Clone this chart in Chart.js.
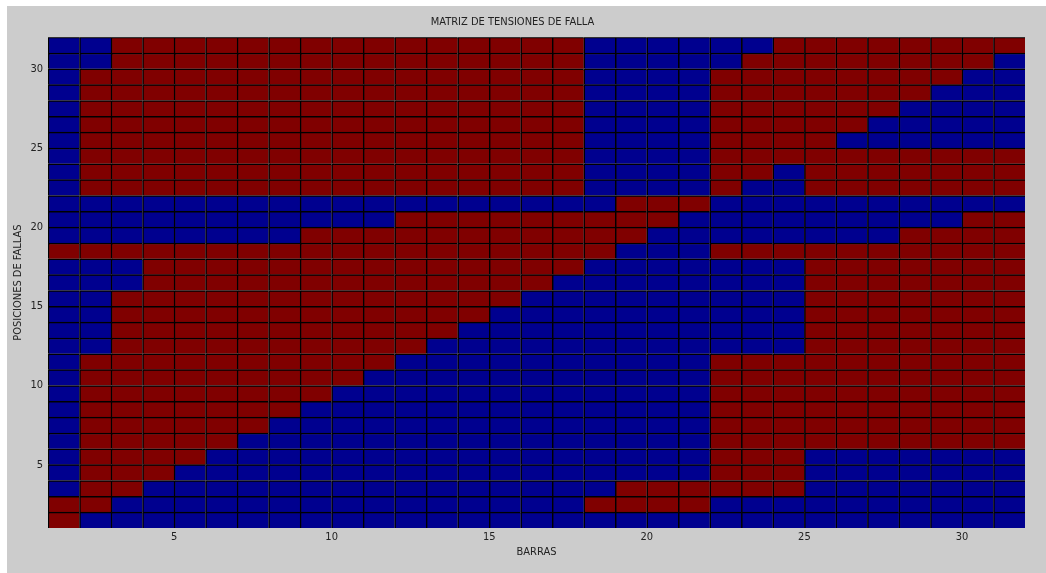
<!DOCTYPE html>
<html>
<head>
<meta charset="utf-8">
<script src="https://cdn.jsdelivr.net/npm/chart.js@4"></script>
<style>
  body { margin: 0; background: #fff; }
  #frame { position: absolute; left: 7px; top: 6px; width: 1039px; height: 567px; background: #cccccc; }
  #wrap { position: absolute; left: 0; top: 0; width: 1046px; height: 573px; }
</style>
</head>
<body>
<div id="frame"></div>
<div id="wrap"><canvas id="chart" width="1046" height="573"></canvas></div>
<script>
// columns = bars (BARRAS), rows = fault positions (POSICIONES DE FALLAS)
const bars = Array.from({ length: 31 }, (_, i) => i + 1);
const positions = Array.from({ length: 31 }, (_, i) => i + 1);
const xTicks = [5, 10, 15, 20, 25, 30];
const yTicks = [5, 10, 15, 20, 25, 30];

// one string per fault position, bottom (1) to top (31); R = red, B = blue
const matrixRows = [
  'RBBBBBBBBBBBBBBBBBBBBBBBBBBBBBB', // 1
  'RRBBBBBBBBBBBBBBBRRRRBBBBBBBBBB', // 2
  'BRRBBBBBBBBBBBBBBBRRRRRRBBBBBBB', // 3
  'BRRRBBBBBBBBBBBBBBBBBRRRBBBBBBB', // 4
  'BRRRRBBBBBBBBBBBBBBBBRRRBBBBBBB', // 5
  'BRRRRRBBBBBBBBBBBBBBBRRRRRRRRRR', // 6
  'BRRRRRRBBBBBBBBBBBBBBRRRRRRRRRR', // 7
  'BRRRRRRRBBBBBBBBBBBBBRRRRRRRRRR', // 8
  'BRRRRRRRRBBBBBBBBBBBBRRRRRRRRRR', // 9
  'BRRRRRRRRRBBBBBBBBBBBRRRRRRRRRR', // 10
  'BRRRRRRRRRRBBBBBBBBBBRRRRRRRRRR', // 11
  'BBRRRRRRRRRRBBBBBBBBBBBBRRRRRRR', // 12
  'BBRRRRRRRRRRRBBBBBBBBBBBRRRRRRR', // 13
  'BBRRRRRRRRRRRRBBBBBBBBBBRRRRRRR', // 14
  'BBRRRRRRRRRRRRRBBBBBBBBBRRRRRRR', // 15
  'BBBRRRRRRRRRRRRRBBBBBBBBRRRRRRR', // 16
  'BBBRRRRRRRRRRRRRRBBBBBBBRRRRRRR', // 17
  'RRRRRRRRRRRRRRRRRRBBBRRRRRRRRRR', // 18
  'BBBBBBBBRRRRRRRRRRRBBBBBBBBRRRR', // 19
  'BBBBBBBBBBBRRRRRRRRRBBBBBBBBBRR', // 20
  'BBBBBBBBBBBBBBBBBBRRRBBBBBBBBBB', // 21
  'BRRRRRRRRRRRRRRRRBBBBRBBRRRRRRR', // 22
  'BRRRRRRRRRRRRRRRRBBBBRRBRRRRRRR', // 23
  'BRRRRRRRRRRRRRRRRBBBBRRRRRRRRRR', // 24
  'BRRRRRRRRRRRRRRRRBBBBRRRRBBBBBB', // 25
  'BRRRRRRRRRRRRRRRRBBBBRRRRRBBBBB', // 26
  'BRRRRRRRRRRRRRRRRBBBBRRRRRRBBBB', // 27
  'BRRRRRRRRRRRRRRRRBBBBRRRRRRRBBB', // 28
  'BRRRRRRRRRRRRRRRRBBBBRRRRRRRRBB', // 29
  'BBRRRRRRRRRRRRRRRBBBBBRRRRRRRRB', // 30
  'BBRRRRRRRRRRRRRRRBBBBBBRRRRRRRR'  // 31
];

const RED = '#800000';
const BLUE = '#00008f';
const FONT = "'Liberation Sans Narrow', 'DejaVu Sans Condensed', 'Liberation Sans', sans-serif";
const TEXT = '#222';

const datasets = positions.map((pos, r) => ({
  label: 'Posicion ' + pos,
  data: bars.map(b => ({ x: b + 0.5, y: [pos, pos + 1] })),
  backgroundColor: bars.map((b, c) => matrixRows[r][c] === 'R' ? RED : BLUE),
  borderColor: '#000',
  borderWidth: { top: 1.5, left: 1.5, right: 0, bottom: 0 },
  borderSkipped: false,
  barPercentage: 1,
  categoryPercentage: 1,
  grouped: false
}));

new Chart(document.getElementById('chart'), {
  type: 'bar',
  data: { datasets },
  options: {
    responsive: false,
    animation: false,
    layout: { padding: { left: 0, right: 21, top: 0, bottom: 0 } },
    plugins: {
      legend: { display: false },
      tooltip: { enabled: false },
      title: {
        display: true,
        text: 'MATRIZ DE TENSIONES DE FALLA',
        color: TEXT,
        font: { family: FONT, size: 11, weight: 'normal' },
        padding: { top: 16, bottom: 8 }
      }
    },
    scales: {
      x: {
        type: 'linear',
        min: 1,
        max: 32,
        offset: false,
        grid: { display: false, drawTicks: false },
        border: { display: false },
        afterBuildTicks: (scale) => { scale.ticks = xTicks.map(v => ({ value: v })); },
        afterFit: (scale) => { scale.height = 45; },
        ticks: { color: TEXT, font: { family: FONT, size: 11 }, padding: 3, maxRotation: 0, autoSkip: false },
        title: {
          display: true,
          text: 'BARRAS',
          color: TEXT,
          font: { family: FONT, size: 11 },
          padding: { top: 0, bottom: 14 }
        }
      },
      y: {
        type: 'linear',
        min: 1,
        max: 32,
        grid: { display: false, drawTicks: false },
        border: { display: false },
        afterBuildTicks: (scale) => { scale.ticks = yTicks.map(v => ({ value: v })); },
        afterFit: (scale) => { scale.width = 48; },
        ticks: { color: TEXT, font: { family: FONT, size: 11 }, padding: 5, autoSkip: false },
        title: {
          display: true,
          text: 'POSICIONES DE FALLAS',
          color: TEXT,
          font: { family: FONT, size: 11 },
          padding: { top: 12, bottom: 0 }
        }
      }
    }
  }
});
</script>
</body>
</html>
